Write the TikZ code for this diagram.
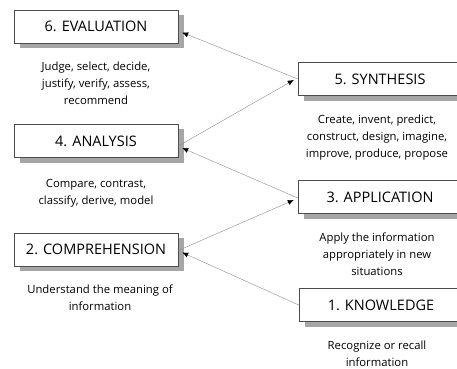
\documentclass[tikz,border=0pt]{standalone}
\usepackage{fontspec}
\setmainfont{Open Sans}
\usetikzlibrary{positioning,backgrounds,calc,arrows.meta}

\tikzset{
  level/.style={draw=gray!60!black, fill=white, minimum width=164, minimum height=33,
    inner sep=0pt, font=\fontsize{14.5}{17}\selectfont},
  desc/.style={align=center, font=\fontsize{11.3}{17}\selectfont, inner sep=0pt},
  link/.style={-{Latex[length=6pt,width=5pt,color=black]}, draw=gray!90, thin}
}

\begin{document}
\begin{tikzpicture}[x=1pt, y=-1pt]

  \useasboundingbox (0,0) rectangle (457,368);

  % Left column boxes
  \node[level] (eval) at (96,26.5) {6. EVALUATION};
  \node[level] (anal) at (96,141) {4. ANALYSIS};
  \node[level] (comp) at (96,249.5) {2. COMPREHENSION};

  % Right column boxes
  \node[level] (synt) at (380,79) {5. SYNTHESIS};
  \node[level] (appl) at (380,197) {3. APPLICATION};
  \node[level] (know) at (381,305) {1. KNOWLEDGE};

  % Shadows behind the boxes
  \begin{scope}[on background layer]
    \foreach \lvl in {eval,anal,comp,synt,appl,know} {
      \fill[gray!70] ($(\lvl.north west)+(6,5)$) rectangle ($(\lvl.south east)+(6,5)$);
    }
  \end{scope}

  % Descriptions under each box
  \node[desc, below=19pt of eval] (evaltxt) {Judge, select, decide,\\justify, verify, assess,\\recommend};
  \node[desc, below=21pt of anal] (analtxt) {Compare, contrast,\\classify, derive, model};
  \node[desc, below=18pt of comp, xshift=4pt] (comptxt) {Understand the meaning of\\information};
  \node[desc, below=19pt of synt, xshift=-3pt] (synttxt) {Create, invent, predict,\\construct, design, imagine,\\improve, produce, propose};
  \node[desc, below=19pt of appl, xshift=-3pt] (appltxt) {Apply the information\\appropriately in new\\situations};
  \node[desc, below=19pt of know, xshift=-4pt] (knowtxt) {Recognize or recall\\information};

  % Arrows up the hierarchy
  \draw[link] (know.west) -- ($(comp.east)+(4,3)$);
  \draw[link] ($(comp.east)+(0,1)$) -- ($(appl.west)+(-4,3)$);
  \draw[link] ($(appl.west)+(0,1)$) -- ($(anal.east)+(4,7)$);
  \draw[link] ($(anal.east)+(0,5)$) -- ($(synt.west)+(-4,1)$);
  \draw[link] (synt.west) -- ($(eval.east)+(4,6)$);

\end{tikzpicture}
\end{document}
